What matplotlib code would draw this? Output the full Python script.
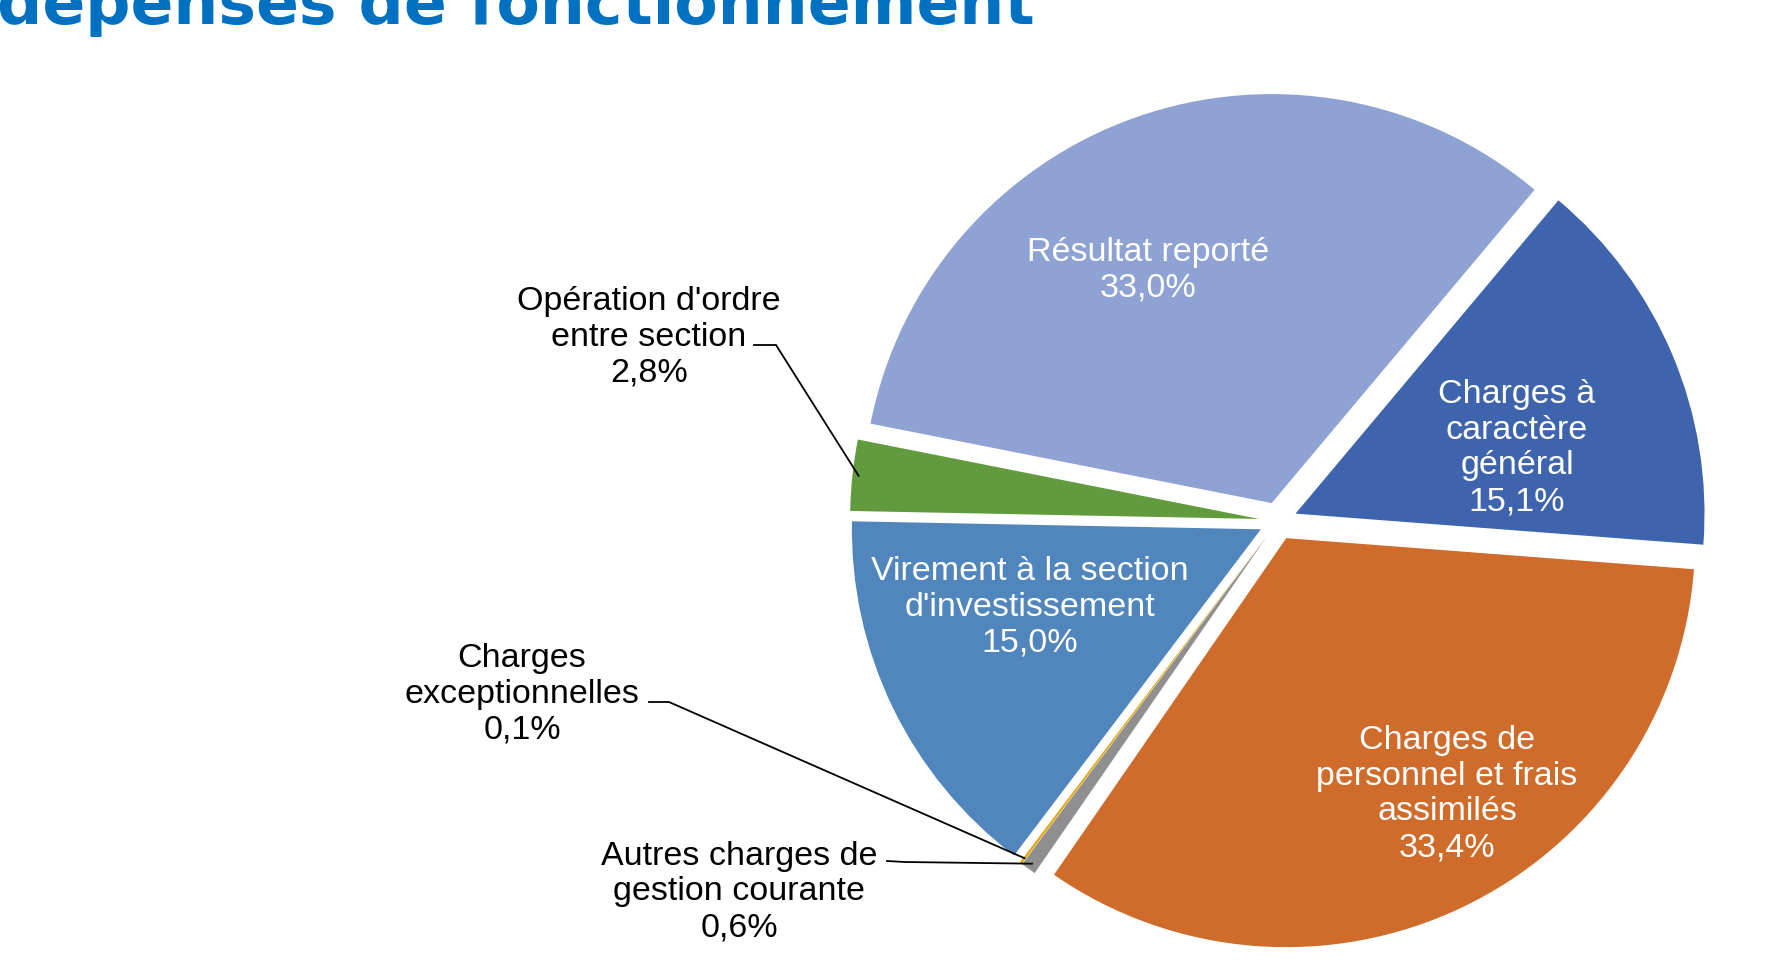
import matplotlib
matplotlib.use("Agg")
import matplotlib.pyplot as plt
import numpy as np

W, H = 1778, 979

categories = ["Charges à\ncaractère\ngénéral",
              "Charges de\npersonnel et frais\nassimilés",
              "Autres charges de\ngestion courante",
              "Charges\nexceptionnelles",
              "Virement à la section\nd'investissement",
              "Opération d'ordre\nentre section",
              "Résultat reporté"]
values = [15.1, 33.4, 0.6, 0.1, 15.0, 2.8, 33.0]
colors = ["#3E64AD", "#D06C2B", "#8F8F8F", "#E3A812", "#5086BB", "#629B3E", "#8FA2D4"]
title = "dépenses de fonctionnement"

# layout (pixel coordinates, y measured from top)
center = (1278, 522)
radius = 409
explode_px = 19
inside = {0: (1517, 448), 1: (1447, 794), 4: (1030, 607), 6: (1148, 270)}
outside = {5: ((649, 337), (754, 346), (776, 346)),
           3: ((522, 694), (649, 703), (669, 703)),
           2: ((739, 892), (887, 862), (905, 863))}

fig = plt.figure(figsize=(W / 100, H / 100), dpi=100)
ax = fig.add_axes([0, 0, 1, 1])
ax.set_xlim(0, W)
ax.set_ylim(0, H)
ax.set_aspect("equal")
ax.axis("off")

def Y(y):
    return H - y

wedges, _ = ax.pie(values, colors=colors, startangle=50, counterclock=False,
                   radius=radius, center=(center[0], Y(center[1])),
                   explode=[explode_px] * len(values),
                   wedgeprops=dict(linewidth=0))
ax.set_xlim(0, W)
ax.set_ylim(0, H)

font = "Liberation Sans"
fs = 24.5

def pct(v):
    return f"{v:.1f}".replace(".", ",") + "%"

for i, (x, y) in inside.items():
    ax.text(x, Y(y), categories[i] + "\n" + pct(values[i]), ha="center", va="center",
            color="white", fontsize=fs, family=font, linespacing=1.2)

for i, ((tx, ty), p0, p1) in outside.items():
    ax.text(tx, Y(ty), categories[i] + "\n" + pct(values[i]), ha="center", va="center",
            color="black", fontsize=fs, family=font, linespacing=1.2)
    w = wedges[i]
    mid = np.deg2rad((w.theta1 + w.theta2) / 2)
    cx, cy = w.center
    ex = cx + 0.985 * w.r * np.cos(mid)
    ey = cy + 0.985 * w.r * np.sin(mid)
    ax.plot([p0[0], p1[0], ex], [Y(p0[1]), Y(p1[1]), ey], color="black", lw=1.3,
            solid_joinstyle="miter")

fig.text(-3 / W, 1 - 24 / H, title, ha="left", va="baseline", color="#0070C0",
         fontsize=45.5, fontweight="bold", family="DejaVu Sans")

fig.savefig("out.png", dpi=100, facecolor="white")
